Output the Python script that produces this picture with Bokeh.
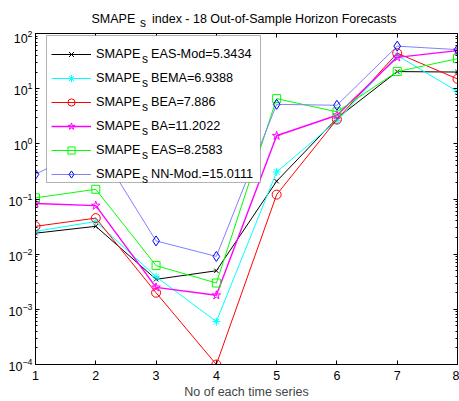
from bokeh.plotting import figure
from bokeh.layouts import column
from bokeh.core.properties import value
from bokeh.models import (Range1d, FixedTicker, LinearAxis, LogAxis, LogTicker,
                          Legend, LegendItem, Label, CustomJSTickFormatter,
                          BoxAnnotation)
from bokeh.embed import file_html
from bokeh.resources import INLINE

FONT = "Liberation Sans"

# ---- data ----
series_x = [1, 2, 3, 4, 5, 6, 7, 8]
x_ticks = [1, 2, 3, 4, 5, 6, 7, 8]
eas_mod = [0.024, 0.032, 0.0035, 0.0050, 0.21, 2.9, 20.4, 20.0]
bema = [0.026, 0.039, 0.0039, 0.0006, 0.31, 2.6, 40.0, 8.9]
bea = [0.032, 0.045, 0.0020, 0.0001, 0.12, 2.76, 44.0, 15.0]
ba = [0.083, 0.076, 0.0025, 0.0018, 1.4, 3.3, 37.0, 49.0]
eas = [0.105, 0.15, 0.0062, 0.0030, 6.6, 3.8, 20.4, 35.0]
nn_mod = [0.28, 1.0, 0.0174, 0.0091, 5.2, 5.0, 59.0, 51.0]
legend_tails = ["EAS-Mod=5.3434", "BEMA=6.9388", "BEA=7.886",
                "BA=11.2022", "EAS=8.2583", "NN-Mod.=15.0111"]
title_head = "SMAPE"
title_sub = "s"
title_tail = "index - 18 Out-of-Sample Horizon Forecasts"
x_label = "No of each time series"

W = 459
TH = 30          # height of the title strip
H = 401 - TH     # height of the main plot
FL, FR = 35, 457 # frame edges (the column aligns both frames)

# ---- title strip (data units = page pixels) ----
t = figure(width=W, height=TH, output_backend="svg", toolbar_location=None,
           x_range=Range1d(FL, FR), y_range=Range1d(TH, 0),
           x_axis_location=None, y_axis_location=None,
           min_border=0, min_border_left=FL, min_border_right=W - FR,
           outline_line_color=None)
t.xgrid.visible = False
t.ygrid.visible = False
t.text(x=[91.0, 151.5], y=[18.3, 18.3], text=[title_head, title_tail],
       text_font=value(FONT), text_font_size="12.5px", text_color="black",
       text_baseline="alphabetic", text_align="left")
t.text(x=[139.5], y=[22.7], text=[title_sub],
       text_font=value(FONT), text_font_size="12px", text_color="black",
       text_baseline="alphabetic", text_align="left")

# ---- main plot ----
p = figure(width=W, height=H, output_backend="svg", toolbar_location=None,
           y_axis_type="log", x_range=Range1d(1, 8), y_range=Range1d(1e-4, 1e2),
           min_border_left=FL, min_border_right=W - FR, min_border_top=3,
           min_border_bottom=35, outline_line_color="black")
p.xgrid.visible = False
p.ygrid.visible = False
p.background_fill_color = "white"
p.border_fill_color = "white"

def style_x(ax, labels=True):
    ax.ticker = FixedTicker(ticks=x_ticks)
    ax.major_tick_in = 4
    ax.major_tick_out = 0
    ax.minor_tick_in = 0
    ax.minor_tick_out = 0
    ax.axis_line_color = "black"
    ax.major_tick_line_color = "black"
    ax.major_label_text_font = FONT
    ax.major_label_text_color = "black"
    if labels:
        ax.major_label_text_font_size = "12.5px"
        ax.major_label_standoff = 6
    else:
        ax.formatter = CustomJSTickFormatter(code="return ''")
        ax.major_label_text_font_size = "1px"
        ax.major_label_standoff = 0

def style_y(ax, labels=True):
    ax.ticker = LogTicker(num_minor_ticks=10)
    ax.major_tick_in = 4
    ax.major_tick_out = 0
    ax.minor_tick_in = 2
    ax.minor_tick_out = 0
    ax.axis_line_color = "black"
    ax.major_tick_line_color = "black"
    ax.minor_tick_line_color = "black"
    ax.major_label_text_font = FONT
    ax.major_label_text_color = "black"
    if labels:
        ax.major_label_text_font_size = "12.5px"
        ax.major_label_standoff = 3
    else:
        ax.formatter = CustomJSTickFormatter(code="return ''")
        ax.major_label_text_font_size = "1px"
        ax.major_label_standoff = 0

style_x(p.xaxis[0])
style_y(p.yaxis[0])
p.xaxis[0].axis_label = x_label
p.xaxis[0].axis_label_text_font = FONT
p.xaxis[0].axis_label_text_font_size = "12.5px"
p.xaxis[0].axis_label_text_font_style = "normal"
p.xaxis[0].axis_label_standoff = 2

top_ax = LinearAxis()
style_x(top_ax, labels=False)
p.add_layout(top_ax, "above")
right_ax = LogAxis()
style_y(right_ax, labels=False)
p.add_layout(right_ax, "right")

specs = [
    (eas_mod, "black", "black", "x", 6, 1.0),
    (bema, "#00ffff", "#00ffff", "asterisk", 8, 1.0),
    (bea, "#ff0000", "#ff0000", "circle", 9, 1.0),
    (ba, "#ff00ff", "#ff00ff", "star", 9, 1.4),
    (eas, "#00ff00", "#00ff00", "square", 8, 1.0),
    (nn_mod, "#8080ff", "#0000ff", "diamond", 10, 1.0),
]
items = []
for (vals, lc, mc, marker, size, lw), tail in zip(specs, legend_tails):
    r1 = p.line(series_x, vals, line_color=lc, line_width=lw)
    r2 = p.scatter(series_x, vals, marker=marker, size=size, line_color=mc,
                   fill_color=None, line_width=1)
    items.append(LegendItem(label=title_head + "\u00a0\u00a0\u00a0" + tail,
                            renderers=[r1, r2]))

# white backing box with border for the legend (pixels relative to frame, y up)
p.add_layout(BoxAnnotation(left=11, right=225, bottom=182, top=329,
                           left_units="screen", right_units="screen",
                           bottom_units="screen", top_units="screen",
                           fill_color="white", fill_alpha=1.0,
                           line_color="black", line_width=1, level="annotation"))

# subscripts in the legend
for i in range(len(legend_tails)):
    p.add_layout(Label(x=106.5, y=305.5 - 24 * i,
                       x_units="screen", y_units="screen",
                       text=title_sub, text_font=FONT, text_font_size="12px",
                       text_baseline="alphabetic", text_color="black"))

legend = Legend(items=items, location=(16, 181), margin=0, padding=6,
                spacing=6, glyph_width=40, glyph_height=18, label_height=18,
                label_width=150, label_standoff=5,
                label_text_font=FONT, label_text_font_size="12.7px",
                label_text_color="black",
                border_line_color=None,
                background_fill_color="white", background_fill_alpha=0.0)
p.add_layout(legend, "center")

open("out.html", "w").write(file_html(column(t, p, spacing=0), INLINE))
